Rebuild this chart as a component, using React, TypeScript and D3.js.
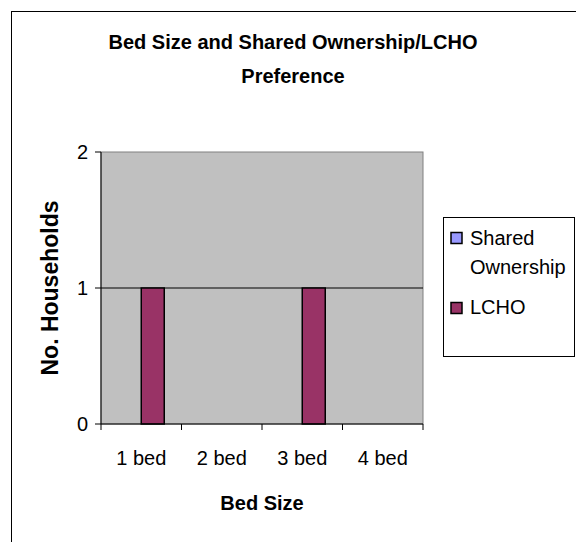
import React from 'react';
import { scaleBand, scaleLinear } from 'd3';

const categories = ['1 bed', '2 bed', '3 bed', '4 bed'];
const seriesNames = ['Shared Ownership', 'LCHO'];
const sharedOwnership = [0, 0, 0, 0];
const lcho = [1, 0, 1, 0];
const yTicks = [0, 1, 2];
const seriesColors = ['#9999FF', '#993366'];

const W = 576;
const H = 542;
const plot = { left: 101, right: 423, top: 152, bottom: 424 };
const font = '"Liberation Sans", Arial, sans-serif';

export default function App() {
  const x = scaleBand<string>().domain(categories).range([plot.left, plot.right]);
  const xInner = scaleBand<string>()
    .domain(seriesNames)
    .range([0, x.bandwidth()])
    .paddingInner(0)
    .paddingOuter(0.75);
  const y = scaleLinear().domain([0, 2]).range([plot.bottom, plot.top]);

  const series = [sharedOwnership, lcho];
  const tickXs = [...categories.map(c => x(c) as number), plot.right];

  return (
    <svg
      width={W}
      height={H}
      style={{ position: 'absolute', left: 0, top: 0, background: '#fff' }}
      fontFamily={font}
    >
      <rect x={11.5} y={11.5} width={700} height={700} fill="#fff" stroke="#000" />

      <text x={293} y={49} textAnchor="middle" fontSize={20} fontWeight="bold">
        Bed Size and Shared Ownership/LCHO
      </text>
      <text x={293} y={83} textAnchor="middle" fontSize={20} fontWeight="bold">
        Preference
      </text>

      <rect
        x={plot.left}
        y={plot.top}
        width={plot.right - plot.left}
        height={plot.bottom - plot.top}
        fill="#C0C0C0"
        stroke="#808080"
      />

      {yTicks.filter(t => t > 0 && t < 2).map(t => (
        <line key={t} x1={plot.left} x2={plot.right} y1={y(t)} y2={y(t)} stroke="#000" />
      ))}

      {series.map((vals, si) =>
        vals.map((v, ci) =>
          v > 0 ? (
            <rect
              key={`${si}-${ci}`}
              x={(x(categories[ci]) as number) + (xInner(seriesNames[si]) as number)}
              y={y(v)}
              width={xInner.bandwidth()}
              height={y(0) - y(v)}
              fill={seriesColors[si]}
              stroke="#000"
              strokeWidth={1.5}
            />
          ) : null
        )
      )}

      <line x1={plot.left} x2={plot.left} y1={plot.top} y2={plot.bottom} stroke="#000" />
      <line x1={plot.left} x2={plot.right} y1={plot.bottom} y2={plot.bottom} stroke="#000" />
      {yTicks.map(t => (
        <g key={t}>
          <line x1={plot.left - 6} x2={plot.left} y1={y(t)} y2={y(t)} stroke="#000" />
          <text x={88} y={y(t)} dy="0.35em" textAnchor="end" fontSize={20}>
            {t}
          </text>
        </g>
      ))}
      {tickXs.map((tx, i) => (
        <line key={i} x1={tx} x2={tx} y1={plot.bottom} y2={plot.bottom + 6} stroke="#000" />
      ))}
      {categories.map(c => (
        <text key={c} x={(x(c) as number) + x.bandwidth() / 2} y={465} textAnchor="middle" fontSize={20}>
          {c}
        </text>
      ))}

      <text x={262} y={510} textAnchor="middle" fontSize={20} fontWeight="bold">
        Bed Size
      </text>
      <text
        transform={`translate(50, ${(plot.top + plot.bottom) / 2}) rotate(-90)`}
        dy="0.35em"
        textAnchor="middle"
        fontSize={23}
        fontWeight="bold"
      >
        No. Households
      </text>

      <rect x={443.5} y={217.5} width={131} height={139} fill="#fff" stroke="#000" />
      <rect x={451} y={232.5} width={11} height={11} fill={seriesColors[0]} stroke="#000" strokeWidth={1.5} />
      <text x={470} y={245} fontSize={20}>Shared</text>
      <text x={470} y={274} fontSize={20}>Ownership</text>
      <rect x={451} y={302.5} width={11} height={11} fill={seriesColors[1]} stroke="#000" strokeWidth={1.5} />
      <text x={470} y={314} fontSize={20}>LCHO</text>
    </svg>
  );
}
